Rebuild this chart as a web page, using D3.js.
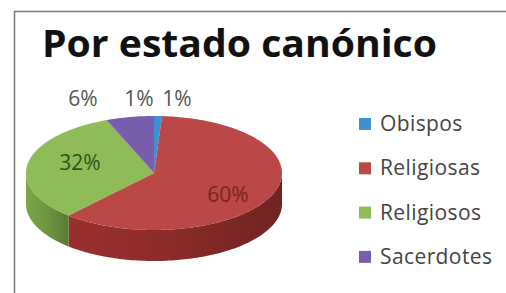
<!DOCTYPE html>
<html>
<head>
<meta charset="utf-8">
<script src="https://cdn.jsdelivr.net/npm/d3@7"></script>
<style>
  body { margin: 0; background: #fff; }
  text { font-family: "Open Sans", "Noto Sans", sans-serif; }
</style>
</head>
<body>
<div id="chart"></div>
<script>
// ============
// Data
// ============
var categories = ["Obispos", "Religiosas", "Religiosos", "Sacerdotes"];
var values = [1, 60, 32, 6];
var labels = ["1%", "60%", "32%", "6%"];

var topColors = ["#3f8fd4", "#b94846", "#8fbb58", "#7a5eae"];
var sideColors = ["#2f6fa8", "#8a2b29", "#6f9540", "#5c4490"];
var labelColors = ["#555555", "#7a2222", "#34521c", "#555555"];

// ============
// Set up of the svg
// ============
var svgWidth = 506;
var svgHeight = 293;

var svg = d3.select("#chart")
  .append("svg")
  .attr("width", svgWidth)
  .attr("height", svgHeight);

// frame
svg.append("path")
  .attr("d", "M14.5,293 L14.5,11.5 L506,11.5")
  .attr("fill", "none")
  .attr("stroke", "#7a7a7a")
  .attr("stroke-width", 1.5);

// title
svg.append("text")
  .attr("x", 42)
  .attr("y", 57)
  .attr("font-size", 38)
  .attr("font-weight", "bold")
  .attr("fill", "#111")
  .attr("textLength", 395)
  .attr("lengthAdjust", "spacingAndGlyphs")
  .text("Por estado canónico");

// ============
// 3D pie
// ============
var cx = 154, cy = 173, rx = 128, ry = 57, depth = 31;

var pie = d3.pie().sort(null).value(d => d);
var arcs = pie(values);

function pt(a, dy) {
  return [cx + rx * Math.sin(a), cy - ry * Math.cos(a) + (dy || 0)];
}

var line = d3.line();

function sample(a0, a1) {
  var n = Math.max(2, Math.ceil(Math.abs(a1 - a0) / 0.02));
  return d3.range(n + 1).map(i => a0 + (a1 - a0) * i / n);
}

// gradient for the side walls
var defs = svg.append("defs");
arcs.forEach(function(d, i) {
  var g = defs.append("linearGradient")
    .attr("id", "side" + i)
    .attr("x1", "0%").attr("x2", "100%")
    .attr("y1", "0%").attr("y2", "0%");
  g.append("stop").attr("offset", "0%").attr("stop-color", d3.color(sideColors[i]).brighter(0.3));
  g.append("stop").attr("offset", "50%").attr("stop-color", sideColors[i]);
  g.append("stop").attr("offset", "100%").attr("stop-color", d3.color(sideColors[i]).darker(0.6));
});

var sideGroup = svg.append("g");
arcs.forEach(function(d, i) {
  var a0 = Math.max(d.startAngle, Math.PI / 2);
  var a1 = Math.min(d.endAngle, Math.PI * 3 / 2);
  if (a1 <= a0) return;
  var angs = sample(a0, a1);
  var pts = angs.map(a => pt(a, 0))
    .concat(angs.slice().reverse().map(a => pt(a, depth)));
  sideGroup.append("path")
    .attr("d", line(pts) + "Z")
    .attr("fill", "url(#side" + i + ")");
});

var topGroup = svg.append("g");
arcs.forEach(function(d, i) {
  var pts = [[cx, cy]].concat(sample(d.startAngle, d.endAngle).map(a => pt(a, 0)));
  topGroup.append("path")
    .attr("d", line(pts) + "Z")
    .attr("fill", topColors[i]);
});

// data labels
var labelPos = [[177, 106], [228, 202], [80, 170], [83, 106]];
svg.append("g").selectAll("text")
  .data(arcs)
  .enter()
  .append("text")
  .attr("x", (d, i) => labelPos[i][0])
  .attr("y", (d, i) => labelPos[i][1])
  .attr("text-anchor", "middle")
  .attr("font-size", 21)
  .attr("fill", (d, i) => labelColors[i])
  .text((d, i) => labels[i]);
// second 1% label (reference shows "1% 1%" above the thin slice)
svg.append("text")
  .attr("x", 139)
  .attr("y", 106)
  .attr("text-anchor", "middle")
  .attr("font-size", 21)
  .attr("fill", "#555555")
  .text("1%");

// ============
// Legend
// ============
var legend = svg.append("g").selectAll("g")
  .data(categories)
  .enter()
  .append("g")
  .attr("transform", (d, i) => `translate(359, ${118 + i * 44.3})`);

legend.append("rect")
  .attr("width", 12)
  .attr("height", 12)
  .attr("fill", (d, i) => topColors[i]);

legend.append("text")
  .attr("x", 21)
  .attr("y", 13)
  .attr("font-size", 21)
  .attr("letter-spacing", 0.4)
  .attr("fill", "#444")
  .text(d => d);
</script>
</body>
</html>
